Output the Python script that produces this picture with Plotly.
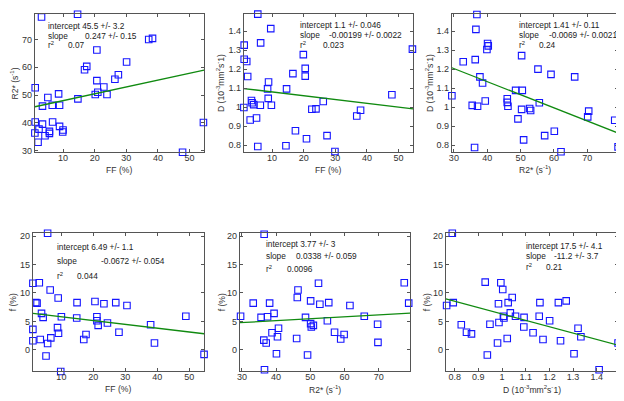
"""Pairwise scatter plots of FF, R2*, D and f with linear fits."""

import plotly.graph_objects as go

W, H = 624, 401
PAGE_MARGIN = 8  # default body margin of the html page

# panel 1: R2* vs FF
p1_ff = [3.2, 14.6, 37.1, 38.3, 20.7, 30.1, 17.5, 16.8, 27.5, 26.4, 20.7, 1.2,
         22.9, 21.0, 20.2, 23.9, 8.6, 5.2, 14.7, 3.5, 6.6, 8.9, 1.2, 6.7,
         54.4, 3.5, 8.9, 2.4, 5.7, 10.0, 1.1, 5.7, 9.9, 4.3, 2.1, 47.8]
p1_r2 = [78.1, 79.1, 70.0, 70.4, 66.2, 61.9, 60.3, 59.1, 57.3, 55.7, 55.2, 52.6,
         52.9, 51.0, 50.2, 50.2, 50.4, 49.1, 48.6, 46.0, 46.3, 46.3, 40.3, 40.3,
         40.1, 39.5, 38.7, 37.7, 36.9, 37.4, 36.3, 36.2, 36.7, 35.3, 33.0, 29.4]

# panel 2: D vs FF
p2_ff = [5.5, 9.6, 6.4, 1.2, 1.2, 2.0, 19.9, 20.5, 20.5, 16.6, 2.3, 8.9,
         8.6, 14.6, 47.9, 54.4, 8.8, 3.5, 3.7, 4.2, 6.3, 9.8, 26.2, 1.1,
         22.6, 23.9, 38.0, 36.8, 5.1, 3.1, 17.4, 27.4, 20.9, 5.5, 14.4, 29.9]
p2_d = [1.489, 1.413, 1.338, 1.326, 1.252, 1.240, 1.276, 1.204, 1.163, 1.176, 1.161, 1.132,
        1.096, 1.096, 1.065, 1.305, 1.046, 1.035, 1.023, 1.013, 1.010, 1.010, 1.030, 0.998,
        0.989, 0.991, 0.984, 0.953, 0.943, 0.932, 0.876, 0.850, 0.834, 0.793, 0.797, 0.767]

# panel 3: D vs R2*
p3_r2 = [36.9, 36.6, 40.1, 40.3, 39.9, 50.3, 32.8, 36.4, 55.2, 59.1, 66.2, 37.8,
         38.6, 48.5, 50.5, 29.4, 46.0, 39.4, 46.0, 55.6, 46.2, 35.5, 37.1, 50.3,
         52.7, 53.0, 70.4, 70.1, 78.2, 49.2, 60.1, 57.2, 50.9, 79.2, 36.2, 62.1]
p3_d = [1.487, 1.409, 1.335, 1.322, 1.303, 1.271, 1.239, 1.250, 1.200, 1.172, 1.159, 1.159,
        1.127, 1.088, 1.088, 1.060, 1.044, 1.032, 1.025, 1.023, 1.005, 1.009, 1.005, 0.988,
        0.993, 0.982, 0.979, 0.949, 0.931, 0.938, 0.873, 0.850, 0.828, 0.791, 0.788, 0.765]

# panel 4: f vs FF
p4_ff = [5.7, 1.1, 3.1, 6.5, 9.0, 2.0, 2.4, 14.9, 20.5, 23.3, 27.0, 30.5,
         3.8, 4.3, 10.0, 14.8, 21.1, 21.1, 48.9, 21.5, 24.4, 37.9, 1.1, 8.8,
         17.7, 28.0, 9.1, 3.4, 6.7, 17.0, 1.1, 5.7, 39.1, 5.2, 54.6, 9.8]
p4_f = [20.5, 11.7, 11.8, 10.5, 9.1, 8.3, 8.2, 8.3, 8.5, 8.1, 8.3, 7.8,
        6.4, 5.7, 5.8, 5.6, 5.8, 5.1, 5.9, 4.3, 4.7, 4.4, 3.6, 3.9,
        2.7, 3.1, 2.9, 1.8, 2.1, 1.8, 1.6, 1.1, 1.2, -1.1, -0.8, -3.8]

# panel 5: f vs R2*
p5_r2 = [36.5, 52.4, 77.5, 46.4, 46.2, 33.3, 38.1, 50.1, 52.8, 55.4, 61.6, 78.8,
         39.4, 29.6, 35.6, 37.5, 48.6, 65.8, 55.0, 50.1, 50.9, 50.3, 40.7, 69.7,
         38.8, 57.1, 59.9, 40.4, 46.0, 58.9, 36.4, 37.1, 69.8, 40.1, 49.2, 36.6]
p5_f = [20.3, 11.7, 11.8, 10.5, 9.2, 8.2, 8.2, 8.6, 8.0, 8.3, 7.8, 8.2,
        6.4, 5.9, 5.7, 5.8, 5.7, 5.9, 5.1, 4.6, 4.3, 4.0, 3.8, 4.5,
        3.0, 3.1, 2.7, 2.3, 2.0, 1.9, 1.7, 1.2, 1.3, -0.7, -0.9, -3.5]

# panel 6: f vs D
p6_d = [0.790, 0.929, 0.995, 1.003, 1.043, 1.271, 0.766, 0.794, 0.985, 1.026, 1.160, 1.238,
        1.035, 1.006, 1.008, 1.057, 1.093, 1.157, 1.201, 0.828, 0.949, 0.987, 1.092, 1.321,
        0.850, 0.871, 1.131, 1.333, 0.981, 1.022, 1.173, 1.247, 1.490, 0.938, 1.304, 1.410]
p6_f = [20.5, 11.9, 11.8, 10.6, 9.2, 8.6, 7.8, 8.3, 8.1, 8.3, 8.3, 8.3,
        6.5, 5.9, 5.6, 5.9, 5.7, 5.9, 5.1, 4.4, 4.5, 4.8, 4.0, 3.8,
        3.1, 2.8, 3.0, 2.3, 1.2, 2.0, 1.8, 1.6, 1.2, -0.9, -0.7, -3.5]

# fit results shown in each panel
intercepts = [45.5, 1.1, 1.41, 6.49, 3.77, 17.5]
intercept_errs = ["3.2", "0.046", "0.11", "1.1", "3", "4.1"]
slopes = [0.247, -0.00199, -0.0069, -0.0672, 0.0338, -11.2]
slope_errs = ["0.15", "0.0022", "0.0021", "0.054", "0.059", "3.7"]
r_squared = ["0.07", "0.023", "0.24", "0.044", "0.0096", "0.21"]

# axis labels, ranges and ticks
ff_label = "FF (%)"
r2_label = "R2* (s<sup>-1</sup>)"
d_label = "D (10<sup>-3</sup>mm<sup>2</sup>s<sup>-</sup>1)"
f_label = "f (%)"
ff_range = [1.1, 54.6]
r2_range = [29.4, 79.2]
d_range = [0.763, 1.49]
f_range = [-3.8, 20.5]
ff_ticks = [10, 20, 30, 40, 50]
r2_ticks = [30, 40, 50, 60, 70]
d_ticks = [0.8, 0.9, 1.0, 1.1, 1.2, 1.3, 1.4]
d_ticktext = ["0.8", "0.9", "1", "1.1", "1.2", "1.3", "1.4"]
f_ticks = [0, 5, 10, 15, 20]

FF = (ff_label, ff_range, ff_ticks, None)
R2 = (r2_label, r2_range, r2_ticks, None)
D = (d_label, d_range, d_ticks, d_ticktext)
F = (f_label, f_range, f_ticks, None)

panels = [
    (p1_ff, p1_r2, FF, R2),
    (p2_ff, p2_d, FF, D),
    (p3_r2, p3_d, R2, D),
    (p4_ff, p4_f, FF, F),
    (p5_r2, p5_f, R2, F),
    (p6_d, p6_f, D, F),
]

# layout in screen pixels: axes boxes, axis titles and fit text placement
x_px = [(32, 202), (242, 412), (451, 618), (30, 202), (238, 409), (445, 618)]
y_px = [(12, 152)] * 3 + [(234, 374)] * 3
xtitle_y = [170] * 3 + [392] * 3
ytitle_x = [11.5, 218, 428, 10, 220, 426]
text_x = [44, 297, 517, 53, 263, 524]
value_x = [(81, 64), (327, 320), (548, 538), (97, 73), (293, 284), (553, 545)]
text_y = [(24.5, 34, 43), (23, 33, 43.5), (23, 33, 43.5),
          (248, 262, 277), (245, 257.5, 270), (247, 257, 268)]

FONT = "Liberation Sans, Arial, sans-serif"
TEXT_SIZE = 8.3
TITLE_SIZE = 8.6


def px_x(x):
    return (x - PAGE_MARGIN) / W


def px_y(y):
    return 1 - (y - PAGE_MARGIN) / H


def _axis(spec, domain, standoff):
    _, rng, ticks, ticktext = spec
    ax = dict(
        domain=domain, range=rng, tickvals=ticks, ticks="inside", ticklen=3,
        tickcolor="#555", showline=True, linecolor="#555", linewidth=1, mirror="ticks",
        showgrid=False, zeroline=False, tickfont=dict(size=9, color="#333"),
        ticklabelstandoff=standoff,
    )
    if ticktext:
        ax["ticktext"] = ticktext
    return ax


def _text(txt, x, y, **kw):
    """Place a text at screen pixel position (x, y)."""
    return dict(
        text=txt, x=px_x(x), y=px_y(y), xref="paper", yref="paper",
        showarrow=False, borderpad=0, **kw,
    )


fig = go.Figure()
annotations = []
layout = {}
for i, (xs, ys, xspec, yspec) in enumerate(panels):
    n = "" if i == 0 else str(i + 1)
    x0, x1 = x_px[i]
    y0, y1 = y_px[i]
    layout["xaxis" + n] = _axis(xspec, [px_x(x0), px_x(x1)], -3)
    layout["yaxis" + n] = _axis(yspec, [px_y(y1), px_y(y0)], 0)
    layout["xaxis" + n]["anchor"] = "y" + n
    layout["yaxis" + n]["anchor"] = "x" + n

    fig.add_trace(go.Scatter(
        x=xs, y=ys, mode="markers", xaxis="x" + n, yaxis="y" + n, cliponaxis=False,
        marker=dict(symbol="square-open", size=6.5, color="#1515ff", line=dict(width=1.1)),
    ))
    xr = xspec[1]
    fig.add_trace(go.Scatter(
        x=xr, y=[intercepts[i] + slopes[i] * v for v in xr], mode="lines",
        xaxis="x" + n, yaxis="y" + n, line=dict(color="#108a10", width=1.3),
    ))

    # axis titles
    annotations.append(_text(xspec[0], (x0 + x1) / 2, xtitle_y[i],
                             xanchor="center", yanchor="middle",
                             font=dict(size=TITLE_SIZE, color="#333")))
    annotations.append(_text(yspec[0], ytitle_x[i], (y0 + y1) / 2, textangle=-90,
                             xanchor="center", yanchor="middle",
                             font=dict(size=TITLE_SIZE, color="#333")))

    # fit summary
    tfont = dict(size=TEXT_SIZE, color="#222")
    ty = text_y[i]
    annotations.append(_text(
        f"intercept {intercepts[i]:g} +/- {intercept_errs[i]}", text_x[i], ty[0],
        xanchor="left", yanchor="middle", font=tfont))
    annotations.append(_text("slope", text_x[i], ty[1],
                             xanchor="left", yanchor="middle", font=tfont))
    annotations.append(_text(f"{slopes[i]:g} +/- {slope_errs[i]}", value_x[i][0], ty[1],
                             xanchor="left", yanchor="middle", font=tfont))
    annotations.append(_text("r<sup>2</sup>", text_x[i], ty[2],
                             xanchor="left", yanchor="middle", font=tfont))
    annotations.append(_text(r_squared[i], value_x[i][1], ty[2],
                             xanchor="left", yanchor="middle", font=tfont))

fig.update_layout(
    width=W, height=H, margin=dict(l=0, r=0, t=0, b=0),
    paper_bgcolor="white", plot_bgcolor="white", showlegend=False,
    font=dict(family=FONT, color="#333"), annotations=annotations, **layout,
)
fig.write_html("out.html")
